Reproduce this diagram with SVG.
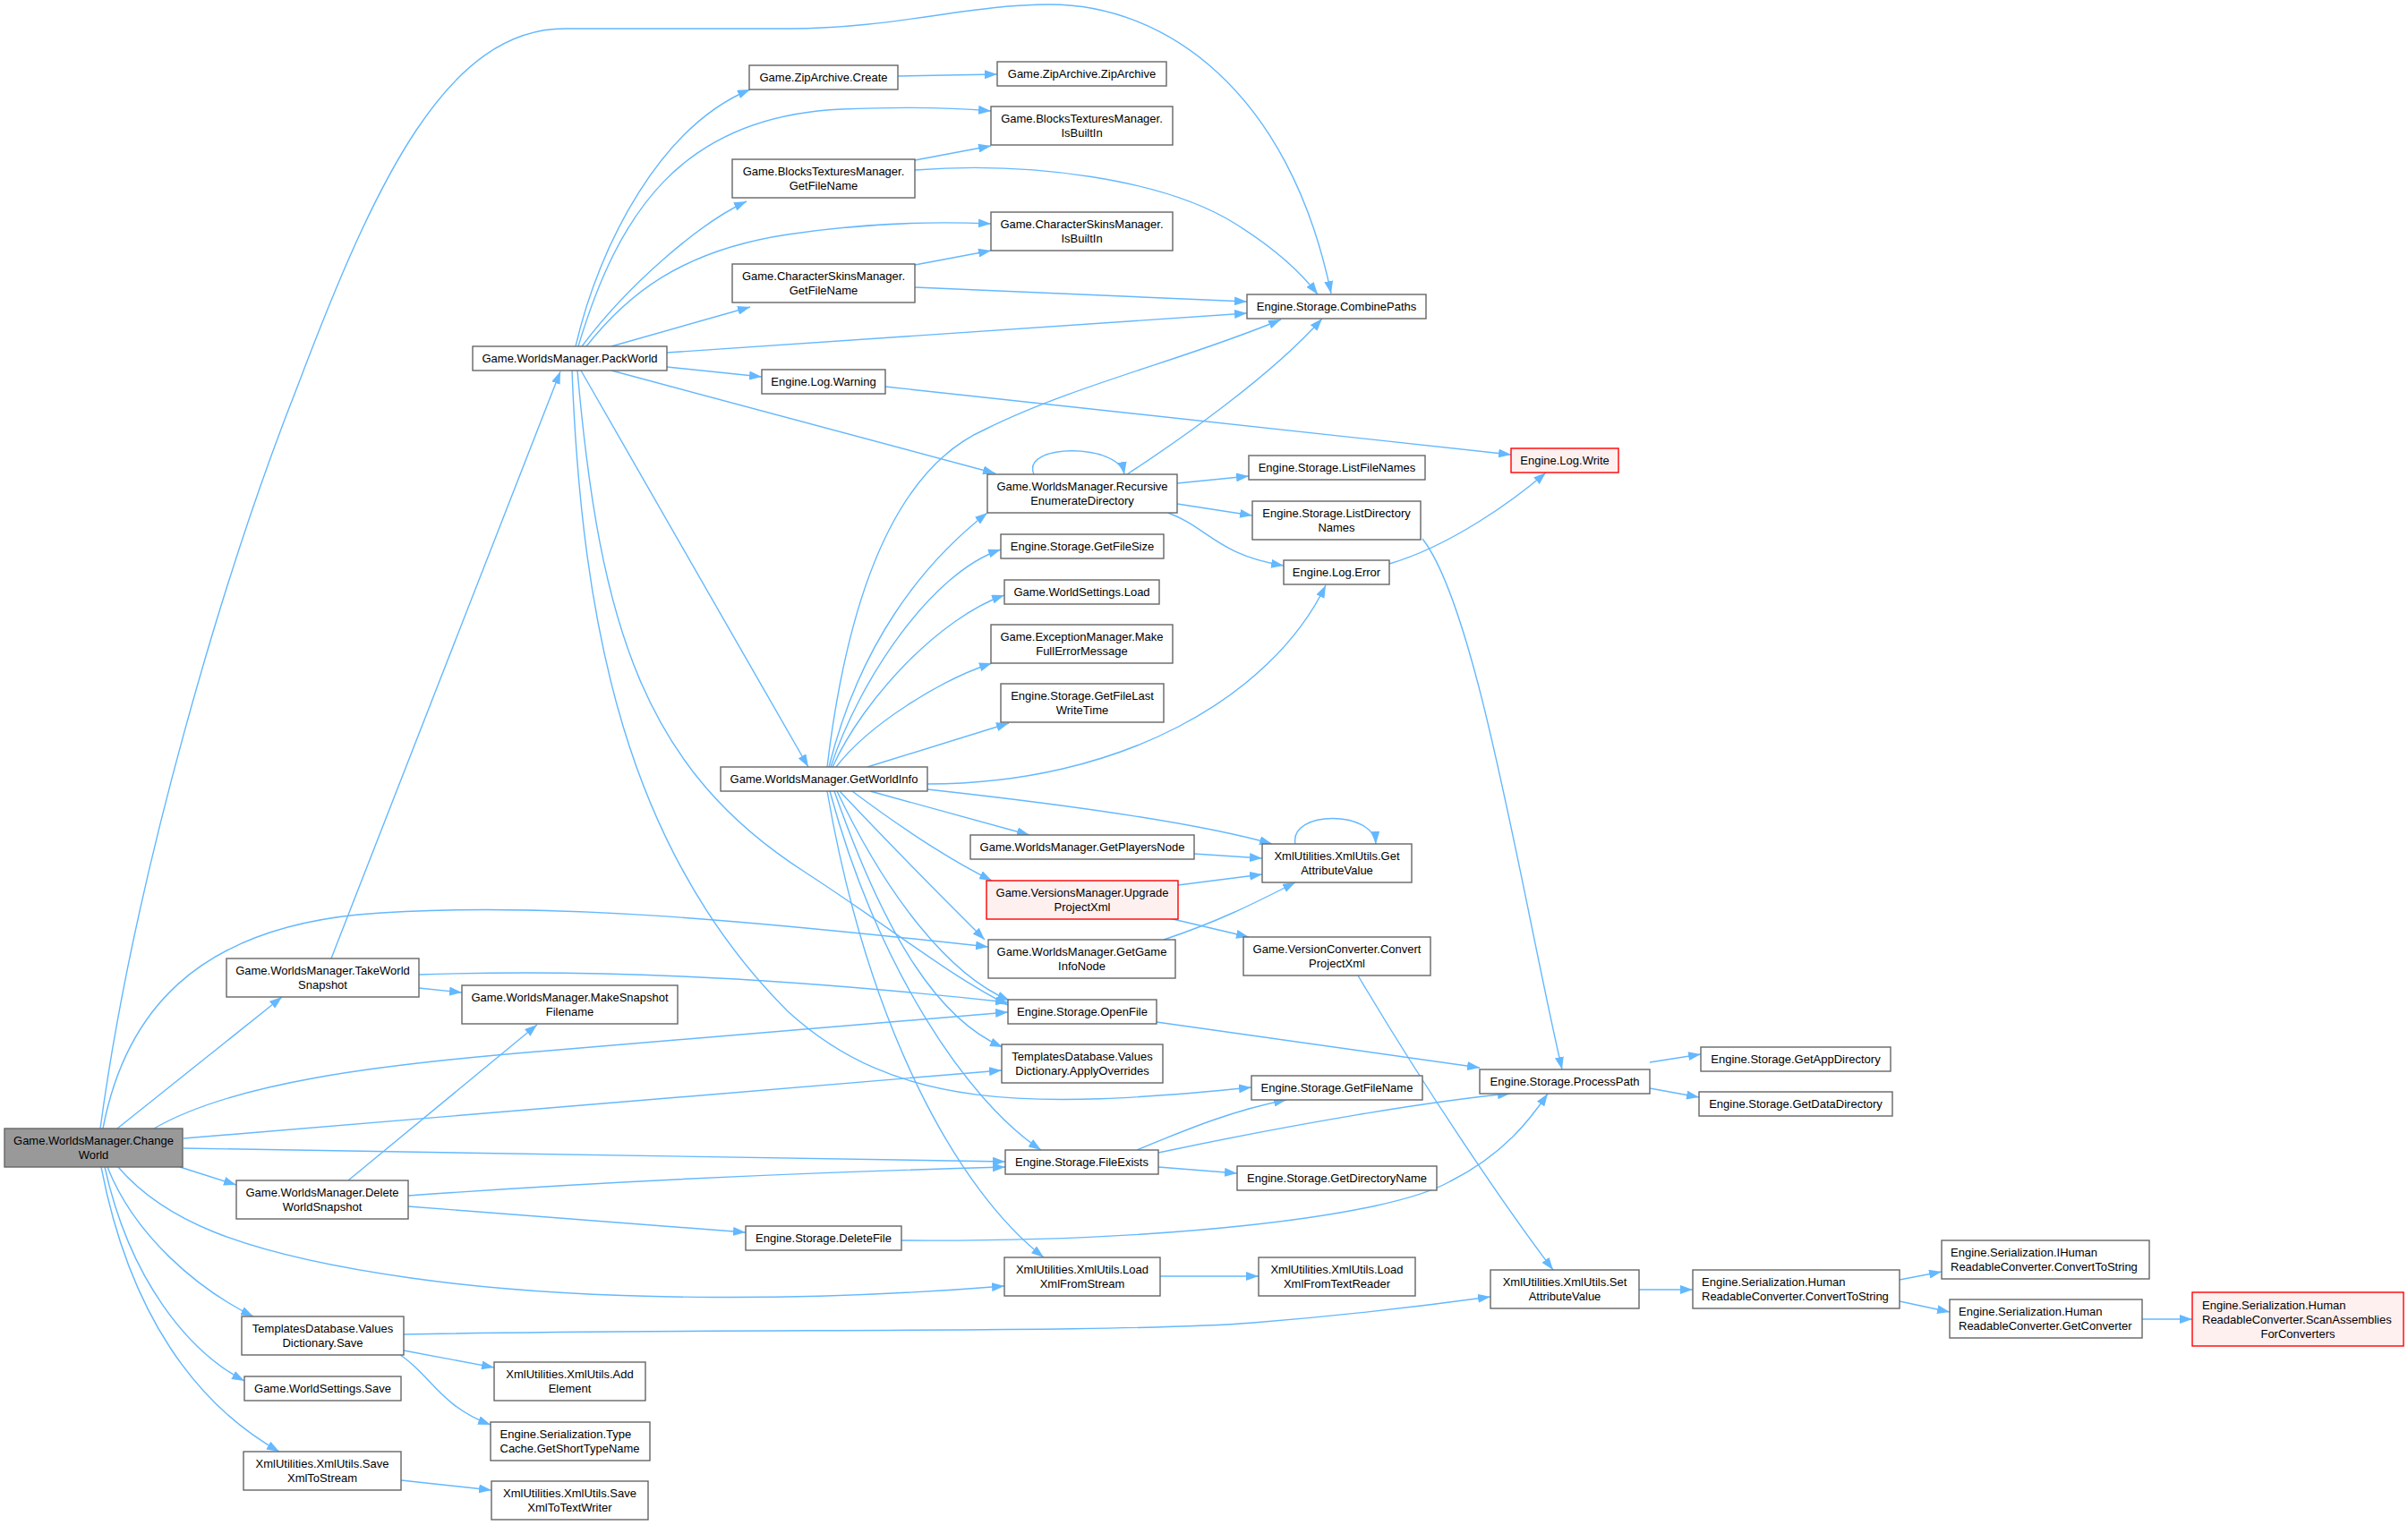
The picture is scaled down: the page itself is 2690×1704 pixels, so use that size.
<svg xmlns="http://www.w3.org/2000/svg" width="2690" height="1704" viewBox="0 0 2690 1704">
<defs>
<marker id="a" viewBox="0 0 14 10" refX="14" refY="5" markerWidth="14" markerHeight="10" markerUnits="userSpaceOnUse" orient="auto"><path d="M0,0 L14,5 L0,10 z" fill="#63b8ff"/></marker>
</defs>
<style>
.n rect{fill:#fff;stroke:#666;stroke-width:1.4}
.n.r rect{fill:#fff0f0;stroke:#ff0000}
.n.root rect{fill:#999}
.n text{font-family:"Liberation Sans",Arial,Helvetica,sans-serif;font-size:13px;fill:#000;text-anchor:middle}
.n text.l{text-anchor:start}
#edges path{fill:none;stroke:#63b8ff;stroke-width:1.4;marker-end:url(#a)}
</style>
<rect width="2690" height="1704" fill="#fff"/>
<g id="edges">
<path d="M112,1261 C150,980 250,640 333,430 C420,200 500,32 631,32 L880,32 C1000,32 1080,5 1173,5 C1300,5 1440,100 1487,328"/>
<path d="M131,1261 L315,1114"/>
<path d="M115,1261 C140,1130 220,1040 400,1022 C600,1005 850,1030 1104,1058"/>
<path d="M172,1261 C260,1210 420,1190 600,1175 C800,1158 1000,1140 1126,1131"/>
<path d="M205,1272 L1119,1196"/>
<path d="M205,1283 L1123,1298"/>
<path d="M201,1304 L264,1324"/>
<path d="M132,1304 C180,1360 260,1400 459,1428 C650,1455 900,1455 1122,1437"/>
<path d="M120,1304 C150,1380 220,1440 283,1471"/>
<path d="M117,1304 C145,1430 210,1510 273,1543"/>
<path d="M113,1304 C145,1470 220,1570 312,1622"/>
<path d="M370,1071 L626,415"/>
<path d="M468,1104 L516,1109"/>
<path d="M468,1089 C650,1083 850,1090 1126,1120"/>
<path d="M389,1319 L600,1145"/>
<path d="M456,1336 C650,1322 900,1310 1123,1304"/>
<path d="M456,1348 L833,1377"/>
<path d="M451,1491 C800,1484 1250,1490 1400,1478 C1500,1470 1600,1458 1665,1449"/>
<path d="M451,1509 L552,1528"/>
<path d="M447,1514 C480,1535 490,1570 548,1592"/>
<path d="M448,1654 L549,1665"/>
<path d="M643,387 C670,270 740,140 838,100"/>
<path d="M646,387 C690,240 760,130 940,122 C1010,119 1060,120 1107,124"/>
<path d="M650,387 C700,320 780,250 834,225"/>
<path d="M655,387 C700,330 760,280 880,262 C960,250 1040,247 1107,250"/>
<path d="M683,387 L838,343"/>
<path d="M745,394 L1393,350"/>
<path d="M745,410 L851,421"/>
<path d="M683,414 L1112,529"/>
<path d="M649,414 L903,857"/>
<path d="M645,414 C670,700 720,860 900,975 C1000,1040 1060,1090 1126,1123"/>
<path d="M639,414 C650,700 700,950 880,1130 C1000,1240 1150,1240 1398,1215"/>
<path d="M924,857 C950,640 1010,520 1100,480 C1200,430 1330,400 1431,357"/>
<path d="M926,857 C960,720 1030,630 1103,573"/>
<path d="M928,857 C960,760 1040,640 1118,614"/>
<path d="M930,857 C965,780 1050,690 1122,665"/>
<path d="M934,857 C970,810 1050,760 1108,741"/>
<path d="M969,857 L1127,808"/>
<path d="M1036,876 C1250,876 1420,780 1481,654"/>
<path d="M1036,882 C1200,900 1340,920 1421,943"/>
<path d="M972,884 L1150,933"/>
<path d="M952,884 C1000,920 1060,960 1108,984"/>
<path d="M938,884 C1000,950 1050,1000 1100,1050"/>
<path d="M935,884 C990,1000 1060,1090 1128,1118"/>
<path d="M932,884 C990,1050 1050,1140 1120,1170"/>
<path d="M927,884 C980,1080 1080,1230 1163,1285"/>
<path d="M924,884 C970,1150 1070,1330 1166,1405"/>
<path d="M1292,1142 L1653,1193"/>
<path d="M1270,1285 C1330,1260 1380,1240 1437,1229"/>
<path d="M1294,1288 C1450,1255 1600,1230 1687,1222"/>
<path d="M1294,1304 L1382,1311"/>
<path d="M1007,1386 C1300,1388 1550,1360 1620,1320 C1680,1290 1710,1250 1729,1222"/>
<path d="M1589,602 C1650,680 1700,1000 1745,1195"/>
<path d="M1517,1090 C1600,1230 1690,1360 1735,1419"/>
<path d="M1296,1426 L1406,1426"/>
<path d="M1831,1441 L1891,1441"/>
<path d="M2122,1430 L2169,1421"/>
<path d="M2122,1454 L2178,1466"/>
<path d="M2393,1474 L2449,1474"/>
<path d="M1843,1187 L1900,1178"/>
<path d="M1843,1216 L1898,1226"/>
<path d="M1155,530 C1140,495 1250,495 1256,530"/>
<path d="M1259,530 C1320,490 1420,420 1477,356"/>
<path d="M1315,540 L1395,532"/>
<path d="M1315,563 L1399,576"/>
<path d="M1305,573 C1350,590 1360,620 1434,632"/>
<path d="M989,432 L1688,508"/>
<path d="M1552,630 C1620,610 1690,560 1727,528"/>
<path d="M1022,296 L1107,280"/>
<path d="M1022,321 L1393,337"/>
<path d="M1022,179 L1107,163"/>
<path d="M1022,190 C1150,180 1300,200 1380,250 C1420,275 1450,300 1472,329"/>
<path d="M1003,85 L1114,83"/>
<path d="M1334,954 L1410,959"/>
<path d="M1316,989 L1410,977"/>
<path d="M1306,1026 L1395,1047"/>
<path d="M1300,1050 C1360,1030 1400,1010 1447,986"/>
<path d="M1447,943 C1440,905 1535,905 1537,943"/>
</g>
<g id="changeWorld" class="n root"><rect x="5" y="1261" width="199" height="43"/><text x="104.5" y="1279">Game.WorldsManager.Change</text><text x="104.5" y="1295">World</text></g>
<g id="packWorld" class="n"><rect x="528" y="387" width="217" height="27"/><text x="636.5" y="405">Game.WorldsManager.PackWorld</text></g>
<g id="takeWorldSnapshot" class="n"><rect x="253" y="1071" width="215" height="43"/><text x="360.5" y="1089">Game.WorldsManager.TakeWorld</text><text x="360.5" y="1105">Snapshot</text></g>
<g id="makeSnapshotFilename" class="n"><rect x="516" y="1101" width="241" height="43"/><text x="636.5" y="1119">Game.WorldsManager.MakeSnapshot</text><text x="636.5" y="1135">Filename</text></g>
<g id="deleteWorldSnapshot" class="n"><rect x="264" y="1319" width="192" height="43"/><text x="360" y="1337">Game.WorldsManager.Delete</text><text x="360" y="1353">WorldSnapshot</text></g>
<g id="valuesDictionarySave" class="n"><rect x="270" y="1471" width="181" height="43"/><text x="360.5" y="1489">TemplatesDatabase.Values</text><text x="360.5" y="1505">Dictionary.Save</text></g>
<g id="worldSettingsSave" class="n"><rect x="273" y="1538" width="175" height="27"/><text x="360.5" y="1556">Game.WorldSettings.Save</text></g>
<g id="saveXmlToStream" class="n"><rect x="272" y="1622" width="176" height="43"/><text x="360" y="1640">XmlUtilities.XmlUtils.Save</text><text x="360" y="1656">XmlToStream</text></g>
<g id="addElement" class="n"><rect x="552" y="1522" width="169" height="43"/><text x="636.5" y="1540">XmlUtilities.XmlUtils.Add</text><text x="636.5" y="1556">Element</text></g>
<g id="getShortTypeName" class="n"><rect x="548" y="1589" width="178" height="43"/><text class="l" x="558.5" y="1607">Engine.Serialization.Type</text><text class="l" x="558.5" y="1623">Cache.GetShortTypeName</text></g>
<g id="saveXmlToTextWriter" class="n"><rect x="549" y="1655" width="175" height="43"/><text x="636.5" y="1673">XmlUtilities.XmlUtils.Save</text><text x="636.5" y="1689">XmlToTextWriter</text></g>
<g id="zipCreate" class="n"><rect x="837" y="73" width="166" height="27"/><text x="920" y="91">Game.ZipArchive.Create</text></g>
<g id="btGetFileName" class="n"><rect x="818" y="178" width="204" height="43"/><text x="920" y="196">Game.BlocksTexturesManager.</text><text x="920" y="212">GetFileName</text></g>
<g id="csGetFileName" class="n"><rect x="818" y="295" width="204" height="43"/><text x="920" y="313">Game.CharacterSkinsManager.</text><text x="920" y="329">GetFileName</text></g>
<g id="logWarning" class="n"><rect x="851" y="413" width="138" height="27"/><text x="920" y="431">Engine.Log.Warning</text></g>
<g id="getWorldInfo" class="n"><rect x="805" y="857" width="231" height="27"/><text x="920.5" y="875">Game.WorldsManager.GetWorldInfo</text></g>
<g id="deleteFile" class="n"><rect x="833" y="1370" width="174" height="27"/><text x="920" y="1388">Engine.Storage.DeleteFile</text></g>
<g id="zipArchive" class="n"><rect x="1114" y="69" width="189" height="27"/><text x="1208.5" y="87">Game.ZipArchive.ZipArchive</text></g>
<g id="btIsBuiltIn" class="n"><rect x="1107" y="119" width="203" height="43"/><text x="1208.5" y="137">Game.BlocksTexturesManager.</text><text x="1208.5" y="153">IsBuiltIn</text></g>
<g id="csIsBuiltIn" class="n"><rect x="1107" y="237" width="203" height="43"/><text x="1208.5" y="255">Game.CharacterSkinsManager.</text><text x="1208.5" y="271">IsBuiltIn</text></g>
<g id="recursiveEnumerateDirectory" class="n"><rect x="1103" y="530" width="212" height="43"/><text x="1209" y="548">Game.WorldsManager.Recursive</text><text x="1209" y="564">EnumerateDirectory</text></g>
<g id="getFileSize" class="n"><rect x="1118" y="597" width="182" height="27"/><text x="1209" y="615">Engine.Storage.GetFileSize</text></g>
<g id="worldSettingsLoad" class="n"><rect x="1122" y="648" width="173" height="27"/><text x="1208.5" y="666">Game.WorldSettings.Load</text></g>
<g id="makeFullErrorMessage" class="n"><rect x="1107" y="698" width="203" height="43"/><text x="1208.5" y="716">Game.ExceptionManager.Make</text><text x="1208.5" y="732">FullErrorMessage</text></g>
<g id="getFileLastWriteTime" class="n"><rect x="1118" y="764" width="182" height="43"/><text x="1209" y="782">Engine.Storage.GetFileLast</text><text x="1209" y="798">WriteTime</text></g>
<g id="getPlayersNode" class="n"><rect x="1084" y="933" width="250" height="27"/><text x="1209" y="951">Game.WorldsManager.GetPlayersNode</text></g>
<g id="upgradeProjectXml" class="n r"><rect x="1102" y="984" width="214" height="43"/><text x="1209" y="1002">Game.VersionsManager.Upgrade</text><text x="1209" y="1018">ProjectXml</text></g>
<g id="getGameInfoNode" class="n"><rect x="1104" y="1050" width="209" height="43"/><text x="1208.5" y="1068">Game.WorldsManager.GetGame</text><text x="1208.5" y="1084">InfoNode</text></g>
<g id="openFile" class="n"><rect x="1126" y="1117" width="166" height="27"/><text x="1209" y="1135">Engine.Storage.OpenFile</text></g>
<g id="applyOverrides" class="n"><rect x="1119" y="1167" width="180" height="43"/><text x="1209" y="1185">TemplatesDatabase.Values</text><text x="1209" y="1201">Dictionary.ApplyOverrides</text></g>
<g id="fileExists" class="n"><rect x="1123" y="1285" width="171" height="27"/><text x="1208.5" y="1303">Engine.Storage.FileExists</text></g>
<g id="loadXmlFromStream" class="n"><rect x="1122" y="1405" width="174" height="43"/><text x="1209" y="1423">XmlUtilities.XmlUtils.Load</text><text x="1209" y="1439">XmlFromStream</text></g>
<g id="combinePaths" class="n"><rect x="1393" y="329" width="200" height="27"/><text x="1493" y="347">Engine.Storage.CombinePaths</text></g>
<g id="listFileNames" class="n"><rect x="1395" y="509" width="197" height="27"/><text x="1493.5" y="527">Engine.Storage.ListFileNames</text></g>
<g id="listDirectoryNames" class="n"><rect x="1399" y="560" width="188" height="43"/><text x="1493" y="578">Engine.Storage.ListDirectory</text><text x="1493" y="594">Names</text></g>
<g id="logError" class="n"><rect x="1434" y="626" width="118" height="27"/><text x="1493" y="644">Engine.Log.Error</text></g>
<g id="getAttributeValue" class="n"><rect x="1410" y="943" width="167" height="43"/><text x="1493.5" y="961">XmlUtilities.XmlUtils.Get</text><text x="1493.5" y="977">AttributeValue</text></g>
<g id="convertProjectXml" class="n"><rect x="1389" y="1047" width="209" height="43"/><text x="1493.5" y="1065">Game.VersionConverter.Convert</text><text x="1493.5" y="1081">ProjectXml</text></g>
<g id="getFileName" class="n"><rect x="1398" y="1202" width="191" height="27"/><text x="1493.5" y="1220">Engine.Storage.GetFileName</text></g>
<g id="getDirectoryName" class="n"><rect x="1382" y="1303" width="223" height="27"/><text x="1493.5" y="1321">Engine.Storage.GetDirectoryName</text></g>
<g id="loadXmlFromTextReader" class="n"><rect x="1406" y="1405" width="175" height="43"/><text x="1493.5" y="1423">XmlUtilities.XmlUtils.Load</text><text x="1493.5" y="1439">XmlFromTextReader</text></g>
<g id="logWrite" class="n r"><rect x="1688" y="501" width="120" height="27"/><text x="1748" y="519">Engine.Log.Write</text></g>
<g id="processPath" class="n"><rect x="1653" y="1195" width="190" height="27"/><text x="1748" y="1213">Engine.Storage.ProcessPath</text></g>
<g id="setAttributeValue" class="n"><rect x="1665" y="1419" width="166" height="43"/><text x="1748" y="1437">XmlUtilities.XmlUtils.Set</text><text x="1748" y="1453">AttributeValue</text></g>
<g id="getAppDirectory" class="n"><rect x="1900" y="1170" width="212" height="27"/><text x="2006" y="1188">Engine.Storage.GetAppDirectory</text></g>
<g id="getDataDirectory" class="n"><rect x="1898" y="1220" width="216" height="27"/><text x="2006" y="1238">Engine.Storage.GetDataDirectory</text></g>
<g id="hrcConvertToString" class="n"><rect x="1891" y="1419" width="231" height="43"/><text class="l" x="1901" y="1437">Engine.Serialization.Human</text><text class="l" x="1901" y="1453">ReadableConverter.ConvertToString</text></g>
<g id="ihrcConvertToString" class="n"><rect x="2169" y="1386" width="232" height="43"/><text class="l" x="2179" y="1404">Engine.Serialization.IHuman</text><text class="l" x="2179" y="1420">ReadableConverter.ConvertToString</text></g>
<g id="getConverter" class="n"><rect x="2178" y="1452" width="215" height="43"/><text class="l" x="2188" y="1470">Engine.Serialization.Human</text><text class="l" x="2188" y="1486">ReadableConverter.GetConverter</text></g>
<g id="scanAssembliesForConverters" class="n r"><rect x="2449" y="1444" width="236" height="60"/><text class="l" x="2460" y="1462.5">Engine.Serialization.Human</text><text class="l" x="2460" y="1478.5">ReadableConverter.ScanAssemblies</text><text x="2567" y="1494.5">ForConverters</text></g>
</svg>
